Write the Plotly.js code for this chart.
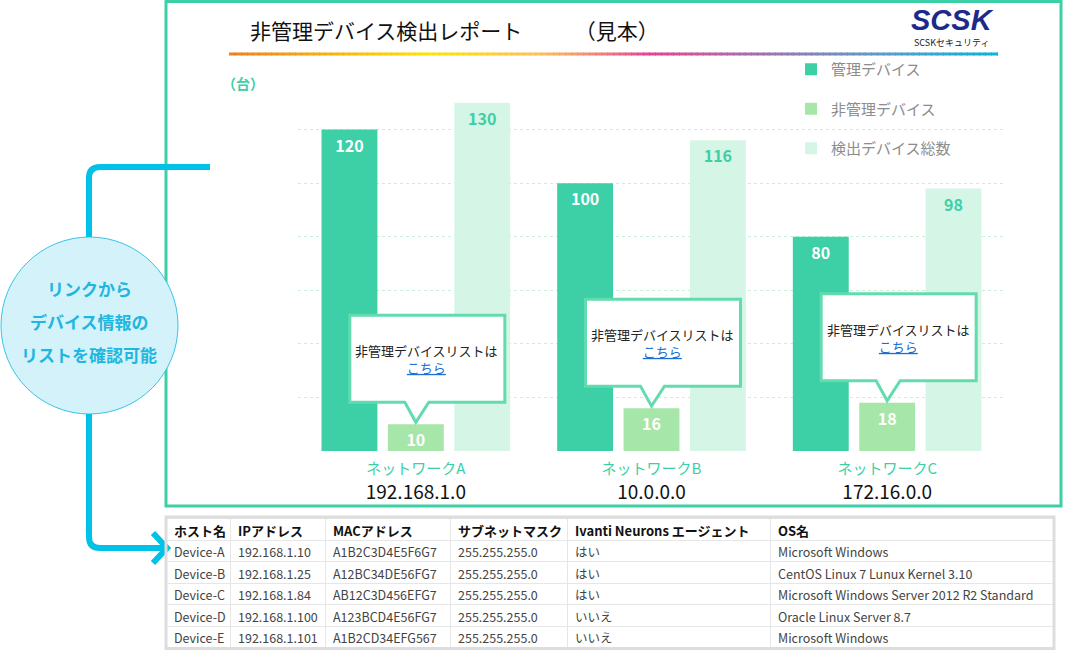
<!DOCTYPE html>
<html><head><meta charset="utf-8">
<script src="https://cdn.plot.ly/plotly-3.0.1.min.js"></script>
<style>html,body{margin:0;padding:0;background:#fff;}#chart{width:1065px;height:650px;}</style>
</head><body><div id="chart"></div>
<script>
// ---- data ----
const networks = ['ネットワークA', 'ネットワークB', 'ネットワークC'];
const networkIPs = ['192.168.1.0', '10.0.0.0', '172.16.0.0'];
const managed = [120, 100, 80];
const unmanaged = [10, 16, 18];
const totalDetected = [130, 116, 98];
const seriesNames = ['管理デバイス', '非管理デバイス', '検出デバイス総数'];
const titleText = '非管理デバイス検出レポート　　　（見本）';
const unitLabel = '（台）';
const circleLines = ['リンクから', 'デバイス情報の', 'リストを確認可能'];
const calloutText = '非管理デバイスリストは';
const calloutLink = 'こちら';
const logoMain = 'SCSK';
const logoSub = 'SCSKセキュリティ';

const tableHeader = ['ホスト名', 'IPアドレス', 'MACアドレス', 'サブネットマスク', 'Ivanti Neurons エージェント', 'OS名'];
const hostNames = ['Device-A', 'Device-B', 'Device-C', 'Device-D', 'Device-E'];
const ipAddresses = ['192.168.1.10', '192.168.1.25', '192.168.1.84', '192.168.1.100', '192.168.1.101'];
const macAddresses = ['A1B2C3D4E5F6G7', 'A12BC34DE56FG7', 'AB12C3D456EFG7', 'A123BCD4E56FG7', 'A1B2CD34EFG567'];
const subnetMasks = ['255.255.255.0', '255.255.255.0', '255.255.255.0', '255.255.255.0', '255.255.255.0'];
const agentStatus = ['はい', 'はい', 'はい', 'いいえ', 'いいえ'];
const osNames = ['Microsoft Windows', 'CentOS Linux 7 Lunux Kernel 3.10', 'Microsoft Windows Server 2012 R2 Standard', 'Oracle Linux Server 8.7', 'Microsoft Windows'];

// ---- geometry helpers ----
const W = 1065, H = 650;
const X = px => px / W;
const Y = py => 1 - py / H;
const FONT = '"Noto Sans CJK JP", "Noto Sans", sans-serif';
const GREEN = '#3dcfa6';

const barTextFont = (c) => ({family: FONT, size: 16, color: c, weight: 'bold'});

const traces = [
  {type: 'bar', name: seriesNames[0], x: networks, y: managed, text: managed.map(String),
   marker: {color: '#3dcfa6'}, textposition: 'inside', insidetextanchor: 'end', textangle: 0,
   constraintext: 'none', textfont: barTextFont('#ffffff'), legendgroup: 'g1', hoverinfo: 'skip'},
  {type: 'bar', name: seriesNames[1], x: networks, y: unmanaged, text: unmanaged.map(String),
   marker: {color: '#a7e6a9'}, textposition: 'inside', insidetextanchor: 'end', textangle: 0,
   constraintext: 'none', textfont: barTextFont('#ffffff'), legendgroup: 'g2', hoverinfo: 'skip'},
  {type: 'bar', name: seriesNames[2], x: networks, y: totalDetected, text: totalDetected.map(String),
   marker: {color: '#d5f6e6'}, textposition: 'inside', insidetextanchor: 'end', textangle: 0,
   constraintext: 'none', textfont: barTextFont(GREEN), legendgroup: 'g3', hoverinfo: 'skip'},
  {type: 'table', domain: {x: [X(166), X(1053)], y: [Y(647.5), Y(518)]},
   columnwidth: [64, 95, 125, 117, 203, 283],
   header: {values: tableHeader, align: 'left', height: 22,
            font: {family: FONT, size: 13, color: '#111', weight: 'bold'}, fill: {color: '#ffffff'},
            line: {color: '#e6e6e6', width: 1}},
   cells: {values: [hostNames, ipAddresses, macAddresses, subnetMasks, agentStatus, osNames],
           align: 'left', height: 21.5, font: {family: FONT, size: 12.5, color: '#444'},
           fill: {color: '#ffffff'}, line: {color: '#e6e6e6', width: 1}},
   hoverinfo: 'skip'}
];

const tickText = networks.map((n, i) =>
  '<span style="color:' + GREEN + ';font-size:15px">' + n + '</span><br>' + networkIPs[i]);

// gradient underline
const gradStops = [
  [229, [239, 127, 26]], [300, [246, 163, 19]], [430, [255, 228, 0]], [540, [251, 193, 90]],
  [600, [243, 129, 122]], [650, [232, 64, 154]], [730, [180, 104, 168]], [800, [138, 128, 184]],
  [880, [92, 156, 204]], [998, [0, 182, 222]]
];
function gradColor(px) {
  for (let k = 0; k < gradStops.length - 1; k++) {
    const [a, ca] = gradStops[k], [b, cb] = gradStops[k + 1];
    if (px >= a && px <= b) {
      const t = (px - a) / (b - a);
      const c = ca.map((v, j) => Math.round(v + (cb[j] - v) * t));
      return 'rgb(' + c.join(',') + ')';
    }
  }
  return 'rgb(0,182,222)';
}
const shapes = [];
// frame
shapes.push({type: 'rect', xref: 'paper', yref: 'paper', x0: X(166), x1: X(1061), y0: Y(506), y1: Y(1.5),
             line: {color: GREEN, width: 3}, fillcolor: 'rgba(0,0,0,0)', layer: 'below'});
for (let p = 229; p < 998; p += 6) {
  shapes.push({type: 'rect', xref: 'paper', yref: 'paper', x0: X(p), x1: X(Math.min(p + 7, 998)),
               y0: Y(55.5), y1: Y(52.5), line: {width: 0}, fillcolor: gradColor(p + 3), layer: 'above'});
}
// circle
shapes.push({type: 'circle', xref: 'paper', yref: 'paper', x0: X(1), x1: X(178), y0: Y(414), y1: Y(237),
             fillcolor: '#d4f2f9', line: {color: '#35c4ea', width: 1}});
// connector lines
const CY = '#00c2e8';
shapes.push({type: 'path', xref: 'paper', yref: 'paper',
  path: `M ${X(210)},${Y(167)} L ${X(100)},${Y(167)} Q ${X(89)},${Y(167)} ${X(89)},${Y(178)} L ${X(89)},${Y(237)}`,
  line: {color: CY, width: 6}});
shapes.push({type: 'path', xref: 'paper', yref: 'paper',
  path: `M ${X(89)},${Y(414)} L ${X(89)},${Y(537)} Q ${X(89)},${Y(548)} ${X(100)},${Y(548)} L ${X(166)},${Y(548)}`,
  line: {color: CY, width: 6}});
shapes.push({type: 'path', xref: 'paper', yref: 'paper',
  path: `M ${X(153)},${Y(533)} L ${X(167)},${Y(548)} L ${X(153)},${Y(563)}`,
  line: {color: CY, width: 6}});
// callout bubbles anchored on the non-managed bars
networks.forEach((n, i) => {
  shapes.push({type: 'path', xref: 'x', yref: 'y', xsizemode: 'pixel', ysizemode: 'pixel',
    xanchor: n, yanchor: unmanaged[i],
    path: 'M -66,22 L -11,22 L 0,2 L 13,22 L 89,22 L 89,109 L -66,109 Z',
    fillcolor: '#ffffff', line: {color: '#62dcae', width: 3}, layer: 'above'});
});
// table outer border
shapes.push({type: 'rect', xref: 'paper', yref: 'paper', x0: X(166), x1: X(1054), y0: Y(648.5), y1: Y(517),
             line: {color: '#dddddd', width: 3}, fillcolor: 'rgba(0,0,0,0)'});

const annotations = [
  {xref: 'paper', yref: 'paper', x: X(243), y: Y(83), xanchor: 'center', yanchor: 'middle',
   text: '<b>' + unitLabel + '</b>', showarrow: false,
   font: {family: FONT, size: 14, color: GREEN}},
  {xref: 'paper', yref: 'paper', x: X(952), y: Y(20), xanchor: 'center', yanchor: 'middle',
   text: '<b><i>' + logoMain + '</i></b>', showarrow: false,
   font: {family: '"Liberation Sans", Arial, sans-serif', size: 29, color: '#1c2a8c'}},
  {xref: 'paper', yref: 'paper', x: X(952), y: Y(42), xanchor: 'center', yanchor: 'middle',
   text: logoSub, showarrow: false,
   font: {family: FONT, size: 9, color: '#222'}}
];
circleLines.forEach((t, i) => {
  annotations.push({xref: 'paper', yref: 'paper', x: X(89), y: Y(288 + i * 33), xanchor: 'center',
    yanchor: 'middle', text: '<b>' + t + '</b>',
    showarrow: false, font: {family: FONT, size: 17, color: '#1fb6e0'}});
});
networks.forEach((n, i) => {
  annotations.push({xref: 'x', yref: 'y', x: n, y: unmanaged[i], xshift: 11, yshift: 65, showarrow: false,
    xanchor: 'center', yanchor: 'middle',
    text: calloutText + '<br><span style="color:#1a6fd6"><u>' + calloutLink + '</u></span>',
    font: {family: FONT, size: 13, color: '#222'}});
});

const layout = {
  width: W, height: H, margin: {l: 0, r: 0, t: 0, b: 0},
  paper_bgcolor: '#ffffff', plot_bgcolor: 'rgba(0,0,0,0)',
  font: {family: FONT, color: '#222'},
  title: {text: titleText, x: X(250), xanchor: 'left', xref: 'paper', y: Y(32), yanchor: 'middle',
          font: {family: FONT, size: 21, color: '#111'}},
  barmode: 'group', bargap: 0.155, bargroupgap: 0.158,
  xaxis: {domain: [X(298), X(1005)], type: 'category', tickvals: networks, ticktext: tickText,
          tickfont: {family: FONT, size: 19, color: '#111'}, showgrid: false, zeroline: false,
          showline: false, ticks: '', fixedrange: true, ticklabelstandoff: 3},
  yaxis: {domain: [Y(451), Y(76)], range: [0, 140], dtick: 20, showticklabels: false,
          gridcolor: '#c9efd9', griddash: '3px,3px', gridwidth: 1, zeroline: false, showline: false,
          fixedrange: true},
  showlegend: true,
  legend: {x: X(791), y: Y(53), xanchor: 'left', yanchor: 'top', bgcolor: 'rgba(0,0,0,0)',
           font: {family: FONT, size: 15, color: '#8c8c8c'}, traceorder: 'grouped', tracegroupgap: 17,
           itemwidth: 30},
  shapes: shapes, annotations: annotations
};

Plotly.newPlot('chart', traces, layout, {displayModeBar: false, staticPlot: true});
</script></body></html>
